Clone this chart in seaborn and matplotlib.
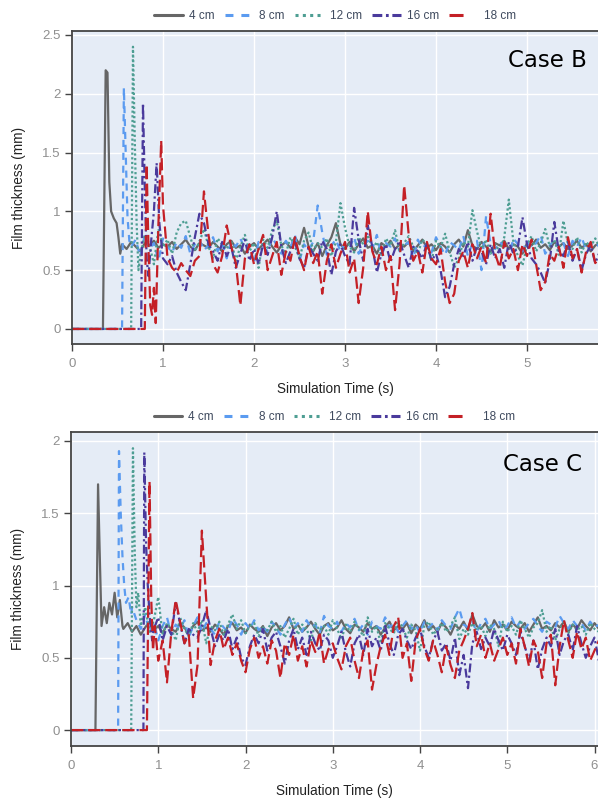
import numpy as np
import pandas as pd
import matplotlib
matplotlib.use("Agg")
import matplotlib.pyplot as plt
from matplotlib.lines import Line2D
import seaborn as sns

sns.set_theme(style="darkgrid")
plt.rcParams["font.family"] = ["Liberation Sans", "DejaVu Sans"]

series_names = ["4 cm", "8 cm", "12 cm", "16 cm", "18 cm"]
x_label = "Simulation Time (s)"
y_label = "Film thickness (mm)"
panel_titles = ["Case B", "Case C"]
step = 0.05

# ---------------- Case B ----------------
b4_t = [0, 0.34, 0.37, 0.39, 0.41, 0.43, 0.46, 0.49, 0.51, 0.53]
b4_v = [0, 0, 2.2, 2.18, 1.25, 1.0, 0.94, 0.9, 0.78, 0.64]
b4_start = 0.55
b4_s = [0.72, 0.68, 0.74, 0.70, 0.66, 0.73, 0.71, 0.75, 0.69, 0.72,
        0.70, 0.74, 0.68, 0.72, 0.76, 0.70, 0.67, 0.73, 0.71, 0.69,
        0.74, 0.70, 0.66, 0.72, 0.75, 0.69, 0.71, 0.64, 0.70, 0.73,
        0.68, 0.72, 0.76, 0.70, 0.65, 0.71, 0.74, 0.69, 0.78, 0.72,
        0.86, 0.70, 0.66, 0.73, 0.62, 0.71, 0.78, 0.90, 0.72, 0.68,
        0.74, 0.66, 0.72, 0.77, 0.69, 0.71, 0.64, 0.73, 0.70, 0.75,
        0.68, 0.72, 0.70, 0.74, 0.66, 0.71, 0.76, 0.69, 0.72, 0.67,
        0.73, 0.70, 0.65, 0.72, 0.76, 0.70, 0.84, 0.71, 0.68, 0.74,
        0.70, 0.66, 0.73, 0.71, 0.75, 0.68, 0.72, 0.70, 0.64, 0.73,
        0.71, 0.76, 0.69, 0.72, 0.67, 0.74, 0.70, 0.73, 0.68, 0.71,
        0.75, 0.69, 0.72, 0.66, 0.71, 0.73]

b8_t = [0, 0.55, 0.57, 0.59, 0.61, 0.63]
b8_v = [0, 0, 2.05, 1.5, 0.95, 0.75]
b8_start = 0.65
b8_s = [0.70, 0.76, 0.62, 0.80, 0.68, 0.73, 0.58, 0.77, 0.70, 0.65,
        0.74, 0.69, 0.79, 0.64, 0.72, 0.76, 0.67, 0.71, 0.78, 0.66,
        0.73, 0.60, 0.75, 0.70, 0.77, 0.68, 0.72, 0.56, 0.74, 0.70,
        0.66, 0.78, 0.71, 0.64, 0.75, 0.69, 0.80, 0.58, 0.72, 0.67,
        0.74, 1.05, 0.82, 0.63, 0.71, 0.76, 0.66, 0.73, 0.69, 0.78,
        0.64, 0.72, 0.75, 0.68, 0.80, 0.62, 0.73, 0.70, 0.77, 0.66,
        0.71, 0.74, 0.60, 0.76, 0.69, 0.72, 0.65, 0.78, 0.70, 0.63,
        0.74, 0.71, 0.67, 0.79, 0.62, 0.73, 0.75, 0.50, 0.96, 0.72,
        0.68, 0.74, 0.70, 0.61, 0.77, 0.72, 0.66, 0.75, 0.69, 0.73,
        0.80, 0.64, 0.71, 0.76, 0.68, 0.73, 0.62, 0.75, 0.70, 0.78,
        0.67, 0.72, 0.74, 0.69]

b12_t = [0, 0.65, 0.67, 0.69, 0.71, 0.73]
b12_v = [0, 0, 2.4, 1.6, 0.9, 0.5]
b12_start = 0.75
b12_s = [0.62, 0.80, 0.72, 0.55, 0.85, 0.70, 0.76, 0.64, 0.82, 0.90,
         0.92, 0.78, 0.66, 0.74, 0.85, 0.70, 0.60, 0.77, 0.72, 0.68,
         0.75, 0.58, 0.70, 0.80, 0.66, 0.73, 0.52, 0.76, 0.69, 0.84,
         0.92, 0.71, 0.64, 0.78, 0.70, 0.60, 0.75, 0.82, 0.67, 0.73,
         0.69, 0.77, 0.62, 0.74, 1.07, 0.86, 0.70, 0.65, 0.78, 0.72,
         0.80, 0.68, 0.74, 0.62, 0.77, 0.71, 0.84, 0.66, 0.73, 0.79,
         0.70, 0.64, 0.76, 0.72, 0.58, 0.75, 0.69, 0.81, 0.66, 0.52,
         0.60, 0.74, 0.70, 1.01, 0.83, 0.68, 0.76, 0.64, 0.72, 0.66,
         0.78, 1.10, 0.74, 0.62, 0.54, 0.71, 0.79, 0.66, 0.73, 0.85,
         0.70, 0.76, 0.63, 0.92, 0.72, 0.68, 0.78, 0.65, 0.74, 0.70,
         0.77, 0.69]

b16_t = [0, 0.76, 0.78, 0.80, 0.82, 0.84, 0.87, 0.90, 0.93, 0.96]
b16_v = [0, 0, 1.92, 1.2, 0.6, 0.45, 0.75, 1.0, 1.41, 0.9]
b16_start = 1.0
b16_s = [0.60, 0.55, 0.62, 0.48, 0.40, 0.33, 0.55, 0.78, 0.98, 0.90,
         0.72, 0.66, 0.58, 0.74, 0.62, 0.70, 0.52, 0.64, 0.76, 0.58,
         0.68, 0.55, 0.72, 0.63, 0.78, 1.00, 0.70, 0.56, 0.66, 0.74,
         0.60, 0.52, 0.70, 0.64, 0.58, 0.75, 0.68, 0.46, 0.66, 0.72,
         0.62, 0.55, 1.03, 0.76, 0.58, 0.88, 0.70, 0.48, 0.64, 0.72,
         0.57, 0.68, 0.75, 0.63, 0.52, 0.70, 0.66, 0.60, 0.73, 0.58,
         0.64, 0.50, 0.27, 0.36, 0.55, 0.68, 0.62, 0.74, 0.58, 0.70,
         0.66, 0.55, 0.72, 0.60, 0.68, 0.52, 0.74, 0.64, 0.70, 0.95,
         0.72, 0.60, 0.55, 0.48, 0.39, 0.58, 0.91, 0.66, 0.62, 0.74,
         0.58, 0.68, 0.50, 0.64, 0.71, 0.56, 0.66]

b18_t = [0, 0.80, 0.82, 0.84, 0.86, 0.88, 0.90, 0.92, 0.95, 0.98]
b18_v = [0, 0, 1.4, 0.7, 0.2, 0.12, 0.35, 0.05, 0.9, 1.6]
b18_start = 1.0
b18_s = [1.05, 0.60, 0.52, 0.48, 0.56, 0.50, 0.45, 0.58, 0.62, 1.17,
         0.80, 0.55, 0.48, 0.62, 0.88, 0.70, 0.56, 0.20, 0.60, 0.72,
         0.55, 0.68, 0.80, 0.50, 0.62, 0.74, 0.46, 0.66, 0.58, 0.78,
         0.62, 0.50, 0.70, 0.56, 0.66, 0.30, 0.58, 0.72, 0.52, 0.64,
         0.74, 0.48, 0.60, 0.22, 0.52, 1.00, 0.66, 0.55, 0.70, 0.50,
         0.62, 0.16, 0.56, 1.22, 0.80, 0.58, 0.66, 0.48, 0.74, 0.60,
         0.55, 0.68, 0.40, 0.22, 0.30, 0.58, 0.66, 0.52, 0.72, 0.60,
         0.70, 0.56, 0.98, 0.64, 0.52, 0.74, 0.60, 0.68, 0.50, 0.72,
         0.62, 0.76, 0.55, 0.33, 0.40, 0.64, 0.58, 0.70, 0.52, 0.78,
         0.60, 0.68, 0.48, 0.66, 0.74, 0.56, 0.62]

# ---------------- Case C ----------------
c4_t = [0, 0.28, 0.31, 0.33, 0.35, 0.38, 0.41, 0.44, 0.47, 0.50, 0.53, 0.56, 0.59]
c4_v = [0, 0, 1.7, 1.2, 0.72, 0.85, 0.74, 0.88, 0.80, 0.95, 0.78, 0.90, 0.72]
c4_start = 0.6
c4_s = [0.70, 0.74, 0.68, 0.72, 0.66, 0.71, 0.75, 0.69, 0.72, 0.67,
        0.73, 0.70, 0.68, 0.74, 0.71, 0.66, 0.72, 0.75, 0.69, 0.71,
        0.68, 0.73, 0.70, 0.66, 0.72, 0.74, 0.69, 0.71, 0.67, 0.73,
        0.70, 0.68, 0.72, 0.65, 0.71, 0.74, 0.69, 0.72, 0.78, 0.70,
        0.73, 0.68, 0.71, 0.75, 0.70, 0.66, 0.72, 0.74, 0.69, 0.71,
        0.76, 0.70, 0.67, 0.73, 0.71, 0.68, 0.74, 0.70, 0.72, 0.66,
        0.71, 0.75, 0.69, 0.72, 0.70, 0.74, 0.67, 0.73, 0.70, 0.76,
        0.69, 0.72, 0.68, 0.74, 0.71, 0.66, 0.73, 0.70, 0.75, 0.69,
        0.80, 0.72, 0.70, 0.74, 0.68, 0.76, 0.71, 0.73, 0.69, 0.75,
        0.72, 0.70, 0.74, 0.68, 0.73, 0.78, 0.70, 0.72, 0.69, 0.74,
        0.71, 0.75, 0.68, 0.73, 0.70, 0.76, 0.72, 0.69, 0.74, 0.70]

c8_t = [0, 0.54, 0.55, 0.57, 0.59, 0.61, 0.63, 0.66, 0.69]
c8_v = [0, 0, 1.93, 1.5, 1.2, 1.0, 0.88, 0.92, 0.8]
c8_start = 0.7
c8_s = [0.85, 0.76, 0.70, 0.80, 0.68, 0.74, 0.62, 0.72, 0.78, 0.66,
        0.73, 0.70, 0.76, 0.64, 0.72, 0.78, 0.68, 0.74, 0.70, 0.66,
        0.75, 0.71, 0.68, 0.77, 0.73, 0.66, 0.74, 0.70, 0.76, 0.69,
        0.72, 0.68, 0.75, 0.71, 0.66, 0.73, 0.78, 0.70, 0.74, 0.68,
        0.76, 0.71, 0.73, 0.67, 0.79, 0.72, 0.70, 0.75, 0.68, 0.74,
        0.71, 0.77, 0.69, 0.73, 0.66, 0.75, 0.72, 0.70, 0.78, 0.71,
        0.74, 0.68, 0.72, 0.76, 0.70, 0.73, 0.67, 0.75, 0.71, 0.74,
        0.69, 0.76, 0.72, 0.70, 0.78, 0.84, 0.73, 0.71, 0.75, 0.68,
        0.74, 0.77, 0.70, 0.73, 0.76, 0.69, 0.72, 0.78, 0.71, 0.75,
        0.70, 0.74, 0.77, 0.72, 0.68, 0.75, 0.73, 0.71, 0.79, 0.74,
        0.70, 0.76, 0.72, 0.74, 0.69, 0.75, 0.71, 0.73]

c12_t = [0, 0.69, 0.71, 0.73, 0.75, 0.77, 0.79]
c12_v = [0, 0, 1.95, 1.25, 0.85, 0.95, 0.80]
c12_start = 0.8
c12_s = [0.72, 0.85, 0.68, 0.76, 0.92, 0.66, 0.74, 0.70, 0.62, 0.78,
         0.70, 0.65, 0.74, 0.68, 0.76, 0.60, 0.72, 0.69, 0.75, 0.66,
         0.73, 0.80, 0.70, 0.76, 0.67, 0.72, 0.74, 0.65, 0.71, 0.69,
         0.75, 0.68, 0.72, 0.64, 0.70, 0.77, 0.66, 0.73, 0.70, 0.62,
         0.74, 0.69, 0.72, 0.66, 0.76, 0.70, 0.63, 0.73, 0.68, 0.75,
         0.70, 0.65, 0.78, 0.68, 0.72, 0.60, 0.74, 0.70, 0.67, 0.76,
         0.71, 0.64, 0.73, 0.69, 0.55, 0.72, 0.75, 0.66, 0.70, 0.74,
         0.68, 0.72, 0.78, 0.63, 0.70, 0.66, 0.74, 0.69, 0.72, 0.65,
         0.73, 0.70, 0.58, 0.75, 0.68, 0.72, 0.66, 0.76, 0.70, 0.64,
         0.71, 0.74, 0.83, 0.68, 0.72, 0.62, 0.70, 0.75, 0.67, 0.73,
         0.69, 0.72, 0.66, 0.74, 0.70, 0.68]

c16_t = [0, 0.83, 0.84, 0.86, 0.88, 0.90, 0.93]
c16_v = [0, 0, 1.92, 1.3, 1.0, 0.8, 0.62]
c16_start = 0.95
c16_s = [0.70, 0.78, 0.62, 0.72, 0.66, 0.88, 0.74, 0.60, 0.70, 0.66,
         0.64, 0.72, 0.83, 0.70, 0.58, 0.66, 0.62, 0.70, 0.56, 0.64,
         0.50, 0.45, 0.58, 0.66, 0.60, 0.70, 0.55, 0.64, 0.68, 0.58,
         0.46, 0.62, 0.70, 0.56, 0.64, 0.52, 0.68, 0.60, 0.55, 0.66,
         0.62, 0.50, 0.58, 0.68, 0.54, 0.44, 0.60, 0.66, 0.52, 0.70,
         0.58, 0.64, 0.55, 0.72, 0.60, 0.52, 0.66, 0.70, 0.62, 0.56,
         0.64, 0.70, 0.58, 0.50, 0.62, 0.68, 0.55, 0.60, 0.48, 0.64,
         0.38, 0.52, 0.29, 0.60, 0.68, 0.56, 0.64, 0.58, 0.70, 0.62,
         0.55, 0.66, 0.60, 0.52, 0.68, 0.58, 0.48, 0.62, 0.42, 0.56,
         0.64, 0.58, 0.70, 0.52, 0.62, 0.66, 0.55, 0.72, 0.60, 0.50,
         0.58, 0.64, 0.48]

c18_t = [0, 0.87, 0.90, 0.92, 0.94, 0.96, 0.98]
c18_v = [0, 0, 1.72, 0.9, 0.55, 0.72, 0.60]
c18_start = 1.0
c18_s = [0.48, 0.62, 0.33, 0.68, 0.90, 0.75, 0.60, 0.66, 0.22, 0.45,
         1.38, 0.90, 0.45, 0.62, 0.70, 0.56, 0.64, 0.52, 0.60, 0.48,
         0.40, 0.56, 0.64, 0.50, 0.58, 0.46, 0.62, 0.55, 0.36, 0.60,
         0.52, 0.66, 0.48, 0.58, 0.44, 0.62, 0.54, 0.68, 0.46, 0.56,
         0.60, 0.50, 0.42, 0.58, 0.64, 0.48, 0.36, 0.55, 0.62, 0.28,
         0.45, 0.58, 0.66, 0.52, 0.72, 0.78, 0.50, 0.60, 0.34, 0.62,
         0.70, 0.56, 0.48, 0.62, 0.52, 0.40, 0.58, 0.45, 0.36, 0.55,
         0.62, 0.70, 0.81, 0.58, 0.66, 0.50, 0.60, 0.48, 0.56, 0.64,
         0.52, 0.60, 0.46, 0.70, 0.58, 0.44, 0.62, 0.55, 0.36, 0.60,
         0.66, 0.31, 0.58, 0.76, 0.62, 0.50, 0.68, 0.56, 0.64, 0.48,
         0.55, 0.62]

b_yticks = [0, 0.5, 1, 1.5, 2, 2.5]
b_ytick_labels = ["0", "0.5", "1", "1.5", "2", "2.5"]
c_yticks = [0, 0.5, 1, 1.5, 2]
c_ytick_labels = ["0", "0.5", "1", "1.5", "2"]
b_xticks = [0, 1, 2, 3, 4, 5]
c_xticks = [0, 1, 2, 3, 4, 5, 6]

colors = ["#666666", "#5B9BF0", "#4E9E93", "#4A3A9C", "#C42026"]
styles = ["-", (0, (3.2, 2.6)), (0, (1.0, 1.1)), (0, (4, 1.5, 1, 1.5)), (0, (5.5, 2.2))]
legend_styles = ["-", (0, (2.6, 2.6)), (0, (1.0, 1.4)), (0, (3.2, 1.2, 0.9, 1.2)), (0, (4.6, 8))]


def build(trans_t, trans_v, start, vals):
    t = np.concatenate([np.asarray(trans_t, float), start + step * np.arange(len(vals))])
    v = np.concatenate([np.asarray(trans_v, float), np.asarray(vals, float)])
    return t, v


panels = [
    [(b4_t, b4_v, b4_start, b4_s), (b8_t, b8_v, b8_start, b8_s), (b12_t, b12_v, b12_start, b12_s),
     (b16_t, b16_v, b16_start, b16_s), (b18_t, b18_v, b18_start, b18_s)],
    [(c4_t, c4_v, c4_start, c4_s), (c8_t, c8_v, c8_start, c8_s), (c12_t, c12_v, c12_start, c12_s),
     (c16_t, c16_v, c16_start, c16_s), (c18_t, c18_v, c18_start, c18_s)],
]

fig = plt.figure(figsize=(5.98, 8.0), dpi=100)
ax_b = fig.add_axes([72 / 598, 1 - 344 / 800, 1 - 72 / 598, (344 - 31) / 800])
ax_c = fig.add_axes([71 / 598, 1 - 746 / 800, 1 - 71 / 598, (746 - 432) / 800])
axes = [ax_b, ax_c]
xlims = [(0, 5.78), (0, 6.04)]
ylims = [(-0.128, 2.534), (-0.11, 2.062)]
yticks = [b_yticks, c_yticks]
yticklabels = [b_ytick_labels, c_ytick_labels]
xticks = [b_xticks, c_xticks]
text_pos = [(0.903, 0.907), (0.895, 0.895)]

for k, ax in enumerate(axes):
    ax.set_facecolor("#E5ECF6")
    for i, (tt, tv, st, vals) in enumerate(panels[k]):
        t, v = build(tt, tv, st, vals)
        df = pd.DataFrame({"t": t, "v": v})
        sns.lineplot(data=df, x="t", y="v", ax=ax, color=colors[i], linestyle=styles[i],
                     linewidth=1.6, estimator=None, sort=False, legend=False)
    ax.set_xlim(*xlims[k])
    ax.set_ylim(*ylims[k])
    ax.set_xticks(xticks[k])
    ax.set_xticklabels([str(x) for x in xticks[k]])
    ax.set_yticks(yticks[k])
    ax.set_yticklabels(yticklabels[k])
    ax.grid(True, color="white", linewidth=1.0)
    ax.set_axisbelow(True)
    for side in ["left", "bottom", "top"]:
        ax.spines[side].set_visible(True)
        ax.spines[side].set_color("#444444")
        ax.spines[side].set_linewidth(1.3)
    ax.spines["right"].set_visible(False)
    ax.tick_params(axis="both", which="major", direction="out", length=5, width=1,
                   color="#444444", labelcolor="#8f8f8f", labelsize=9.5,
                   bottom=True, left=True)
    ax.tick_params(axis="x", pad=5)
    ax.tick_params(axis="y", pad=3)
    ax.set_xlabel(x_label, fontsize=9.8, color="#222222", labelpad=9)
    ax.set_ylabel(y_label, fontsize=9.8, color="#222222", labelpad=12)
    ax.text(text_pos[k][0], text_pos[k][1], panel_titles[k], transform=ax.transAxes,
            ha="center", va="center", fontsize=16.5, color="black", family="DejaVu Sans")
    handles = [Line2D([0], [0], color=colors[i], linestyle=legend_styles[i], linewidth=2.2)
               for i in range(5)]
    leg = ax.legend(handles, series_names, loc="lower center", bbox_to_anchor=(0.5, 1.005),
                    ncol=5, frameon=False, fontsize=8.5, handlelength=2.45, handletextpad=0.5,
                    columnspacing=0.85, borderaxespad=0.2)
    for txt in leg.get_texts():
        txt.set_color("#3f4a5e")

fig.savefig("out.png", dpi=100)
